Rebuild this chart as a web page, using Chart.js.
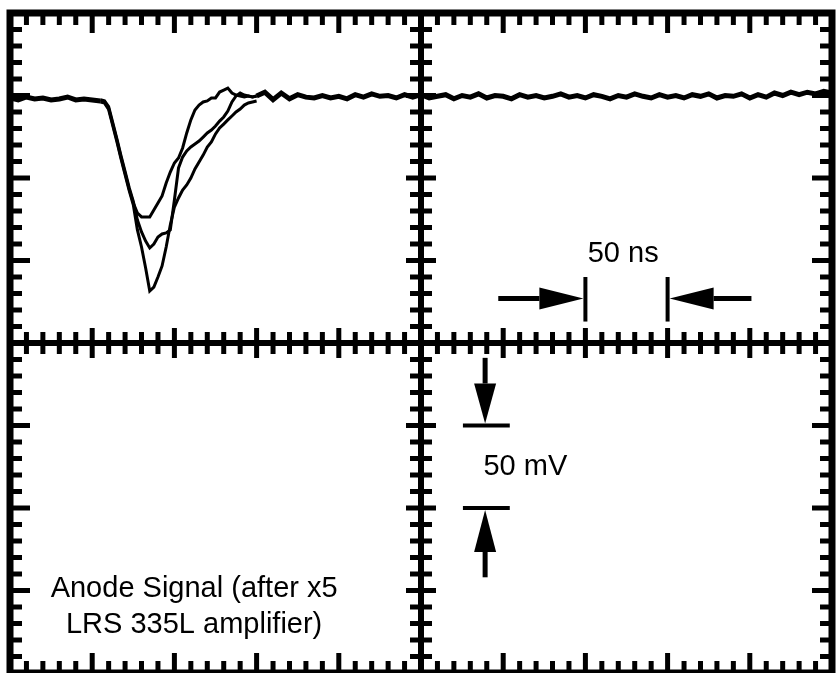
<!DOCTYPE html>
<html>
<head>
<meta charset="utf-8">
<script src="https://cdn.jsdelivr.net/npm/chart.js@4"></script>
<style>
  html, body { margin: 0; padding: 0; background: #fff; overflow: hidden; }
  canvas { display: block; }
</style>
</head>
<body>
<canvas id="scope" width="846" height="683"></canvas>
<script>
// scope screen: 10 div x 50 ns, 8 div x 50 mV, zero at screen centre
const baseTimeNs = [];
for (let t = 0; t <= 500; t += 5) baseTimeNs.push(t);

// flat part of the three sweeps (overlapping), null where the pulse is
const baselineMv = [
  148.5, 147.3, 149.1, 147.9, 148.5, 147.3, 147.9, 149.1, 147.3, 147.9, 147.3, 146.7,
  null, null, null, null, null, null, null, null, null, null, null, null, null, null, null, null, null, null,
  149.7, 152.0, 147.5, 151.5, 148.0, 150.5, 149.0, 148.5, 150.0, 148.5,
  149.5, 148.0, 150.5, 149.0, 151.0, 149.5, 150.0, 148.5, 150.5, 149.0,
  150.5, 148.5, 149.5, 150.5, 148.0, 150.0, 149.0, 151.0, 148.5, 150.0,
  149.5, 148.0, 150.5, 149.0, 150.0, 148.5, 149.5, 151.0, 149.0, 150.0,
  148.5, 150.5, 149.5, 148.0, 150.0, 149.0, 151.0, 149.5, 148.5, 150.5,
  149.0, 150.0, 148.5, 150.5, 149.5, 151.0, 148.5, 150.0, 149.5, 151.0,
  148.5, 150.5, 149.0, 151.5, 150.0, 152.0, 150.5, 152.0, 151.0, 152.5, 151.5
];

const pulseTimeNs = [];
for (let t = 55; t <= 150; t += 2.5) pulseTimeNs.push(t);

const shallowMv = [
  146.7, 146.1, 142.4, 132.7, 123.0, 112.7, 103.0, 93.3, 84.8,
  78.8, 76.4, 76.4, 76.4, 80.6, 84.8, 89.1, 97.0, 103.6, 109.1,
  112.1, 118.2, 127.3, 135.2, 141.2, 144.2, 146.1, 146.7, 148.5, 148.5,
  152.1, 153.3, 154.5, 151.5, 150.3, 149.7, 149.1, 149.7, 149.1, 149.7
];
const mediumMv = [
  147.5, 146.8, 143.2, 133.6, 123.8, 113.5, 104.0, 94.2, 85.8,
  74.5, 67.3, 61.8, 57.6, 60.0, 64.2, 66.1, 66.7, 68.5, 86.7,
  106.1, 112.7, 116.4, 118.8, 120.6, 122.4, 124.8, 127.3, 129.1, 131.5,
  134.5, 137.0, 140.6, 146.1, 149.7, 151.5, 150.3, 149.7, 149.1, 149.7
];
const deepMv = [
  146.0, 145.4, 141.5, 131.8, 122.1, 111.8, 102.1, 92.4, 83.8,
  68.5, 58.2, 45.5, 31.5, 33.9, 40.0, 46.7, 58.2, 71.5, 82.4,
  87.9, 92.7, 95.8, 100.0, 105.5, 109.7, 113.9, 118.8, 121.8, 126.7,
  130.3, 132.7, 135.2, 137.6, 140.0, 141.8, 144.2, 145.5, 146.1, 146.7
];

const pts = (xs, ys) => xs.map((x, i) => ({ x: x, y: ys[i] }));

function seg(ctx, x1, y1, x2, y2) {
  ctx.beginPath();
  ctx.moveTo(x1, y1);
  ctx.lineTo(x2, y2);
  ctx.stroke();
}

const graticule = {
  id: "graticule",
  beforeDatasetsDraw(chart) {
    const { ctx, chartArea: a, scales } = chart;
    const x = scales.x, y = scales.y;
    const cx = x.getPixelForValue(250), cy = y.getPixelForValue(0);
    ctx.save();
    ctx.strokeStyle = "#000";
    ctx.lineWidth = 7;
    ctx.strokeRect(a.left, a.top, a.right - a.left, a.bottom - a.top);
    ctx.lineWidth = 6;
    seg(ctx, cx, a.top, cx, a.bottom);
    seg(ctx, a.left, cy, a.right, cy);
    ctx.lineWidth = 5;
    for (let t = 10; t < 500; t += 10) {
      const px = x.getPixelForValue(t);
      const major = t % 50 === 0;
      const len = major ? 20 : 12;
      seg(ctx, px, a.top, px, a.top + len);
      seg(ctx, px, a.bottom, px, a.bottom - len);
      if (t !== 250) {
        const c = major ? 15 : 11;
        seg(ctx, px, cy - c, px, cy + c);
      }
    }
    for (let v = -190; v < 200; v += 10) {
      const py = y.getPixelForValue(v);
      const major = v % 50 === 0;
      const len = major ? 20 : 12;
      seg(ctx, a.left, py, a.left + len, py);
      seg(ctx, a.right, py, a.right - len, py);
      if (v !== 0) {
        const c = major ? 15 : 11;
        seg(ctx, cx - c, py, cx + c, py);
      }
    }
    ctx.restore();
  }
};

// scale markers and captions, placed in data units
const nsBars = [350, 400];
const mvBars = [-50, -100];

function arrow(ctx, x1, y1, x2, y2, head) {
  const ang = Math.atan2(y2 - y1, x2 - x1);
  const bx = x2 - head * Math.cos(ang), by = y2 - head * Math.sin(ang);
  ctx.lineWidth = 5;
  seg(ctx, x1, y1, bx, by);
  ctx.beginPath();
  ctx.moveTo(x2, y2);
  ctx.lineTo(bx - 11 * Math.sin(ang), by + 11 * Math.cos(ang));
  ctx.lineTo(bx + 11 * Math.sin(ang), by - 11 * Math.cos(ang));
  ctx.closePath();
  ctx.fill();
}

const labels = {
  id: "labels",
  afterDatasetsDraw(chart) {
    const { ctx, scales } = chart;
    const x = scales.x, y = scales.y;
    ctx.save();
    ctx.fillStyle = "#000";
    ctx.strokeStyle = "#000";
    // 50 ns marker
    ctx.lineWidth = 4;
    nsBars.forEach(t => seg(ctx, x.getPixelForValue(t), y.getPixelForValue(40), x.getPixelForValue(t), y.getPixelForValue(13)));
    const ay = y.getPixelForValue(27);
    arrow(ctx, x.getPixelForValue(297), ay, x.getPixelForValue(nsBars[0]) - 2, ay, 44);
    arrow(ctx, x.getPixelForValue(451), ay, x.getPixelForValue(nsBars[1]) + 2, ay, 44);
    // 50 mV marker
    ctx.lineWidth = 4;
    mvBars.forEach(v => seg(ctx, x.getPixelForValue(275.5), y.getPixelForValue(v), x.getPixelForValue(304), y.getPixelForValue(v)));
    const ax = x.getPixelForValue(289);
    arrow(ctx, ax, y.getPixelForValue(-9), ax, y.getPixelForValue(mvBars[0]) - 2, 40);
    arrow(ctx, ax, y.getPixelForValue(-142), ax, y.getPixelForValue(mvBars[1]) + 2, 42);

    ctx.font = '29px "Liberation Sans", Arial, sans-serif';
    ctx.textBaseline = "alphabetic";
    ctx.textAlign = "center";
    ctx.fillText("50 ns", x.getPixelForValue(373), y.getPixelForValue(49));
    ctx.textAlign = "left";
    ctx.fillText("50 mV", x.getPixelForValue(288), y.getPixelForValue(-80));
    ctx.textAlign = "center";
    ctx.fillText("Anode Signal (after x5", x.getPixelForValue(112), y.getPixelForValue(-154));
    ctx.fillText("LRS 335L amplifier)", x.getPixelForValue(112), y.getPixelForValue(-176));
    ctx.restore();
  }
};

const trace = (data, w) => ({
  data: data,
  borderColor: "#000",
  borderWidth: w,
  pointRadius: 0,
  tension: 0,
  fill: false
});

new Chart(document.getElementById("scope"), {
  type: "line",
  data: {
    datasets: [
      trace(pts(baseTimeNs, baselineMv), 5),
      trace(pts(pulseTimeNs, shallowMv), 3),
      trace(pts(pulseTimeNs, mediumMv), 3),
      trace(pts(pulseTimeNs, deepMv), 3)
    ]
  },
  options: {
    responsive: false,
    animation: false,
    devicePixelRatio: 1,
    layout: { padding: { left: 10, top: 13, right: 14, bottom: 10 } },
    scales: {
      x: { type: "linear", min: 0, max: 500, display: false },
      y: { min: -200, max: 200, display: false }
    },
    plugins: { legend: { display: false }, tooltip: { enabled: false } }
  },
  plugins: [graticule, labels]
});
</script>
</body>
</html>
